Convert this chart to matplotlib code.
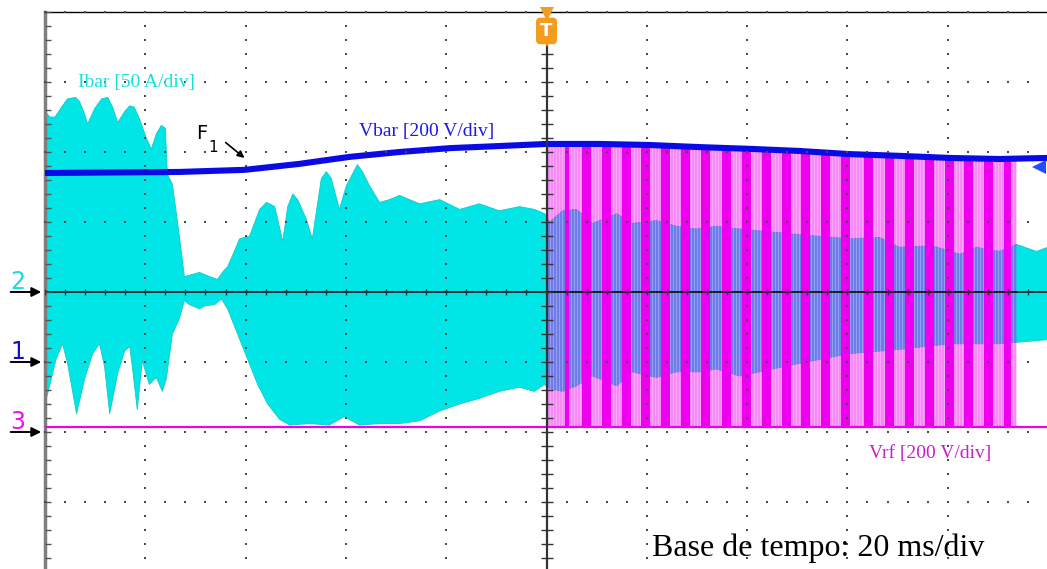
import matplotlib
matplotlib.use("Agg")
import matplotlib.pyplot as plt
import numpy as np

# Escalas do osciloscópio
ms_por_div = 20
ibar_a_div = 50
vbar_v_div = 200
vrf_v_div = 200

# Referências dos canais (divisões a partir do centro da tela)
ref_ch1 = -1.0   # Vbar
ref_ch2 = 0.0    # Ibar
ref_ch3 = -2.0   # Vrf

# Tensão do barramento Vbar [V] ao longo do tempo [ms]
vbar_t = [-100, -73.2, -60.2, -49.3, -39.3, -29.3, -19.3, -9.4, 0, 10.6,
          20.5, 30.5, 40.5, 50.4, 60.4, 70.4, 80.4, 90.3, 100]
vbar_v = [540, 543, 549, 566, 586, 600, 611, 617, 623, 623,
          620, 614, 609, 603, 594, 589, 583, 580, 583]

# Envoltória da corrente Ibar [A]
ibar_sup_t = [-100, -99.0, -98.0, -96.7, -95.5, -93.9, -93.1, -92.1, -91.5, -90.1,
              -88.7, -87.5, -86.5, -85.5, -84.1, -83.1, -82.2, -81.2, -79.8, -78.8,
              -77.8, -76.8, -76.0, -75.6, -74.6, -73.8, -73.0, -72.2,
              -71.2, -69.2, -67.2, -65.6, -64.4, -63.6,
              -62.6, -61.2, -59.2, -57.2, -55.8, -54.2, -53.6, -52.6, -51.6, -50.6,
              -49.6, -47.9, -46.7, -44.9, -43.9, -42.9, -41.3, -39.9, -37.7, -36.7,
              -35.3, -33.3, -31.3, -29.3, -25.3, -21.3, -17.3, -13.4, -9.4, -5.4,
              -2.4, -0.4,
              0.6, 3.2, 6.0, 9.2, 14.0, 17.1, 21.9, 25.9, 29.9, 33.9, 38.5, 50.4,
              60.4, 66.4, 70.4, 77.0, 82.4, 85.7, 90.3, 93.7, 97.7, 100]
ibar_sup_a = [129, 125, 125, 132, 138, 139, 136, 127, 120, 131,
              138, 139, 132, 121, 129, 133, 132, 124, 110, 102,
              113, 119, 117, 84, 77, 56, 34, 11,
              12, 14, 11, 9, 15, 18,
              26, 38, 40, 59, 64, 61, 52, 36, 61, 70,
              66, 52, 38, 81, 86, 81, 59, 76, 91, 86,
              76, 64, 66, 69, 63, 66, 59, 63, 58, 61,
              59, 56,
              50, 58, 59, 49, 56, 49, 51, 47, 45, 47, 45, 41,
              38, 39, 32, 33, 27, 32, 29, 34, 29, 32]
ibar_inf_t = [-100, -99.0, -97.8, -96.5, -95.5, -93.7, -92.1, -90.5, -89.1, -88.1,
              -87.1, -85.5, -84.1, -83.1, -82.4, -81.6, -80.6, -79.2, -77.8,
              -76.6, -75.8, -74.6, -73.2, -72.2,
              -71.2, -69.2, -68.2, -66.2, -64.8, -63.6,
              -61.6, -59.6, -57.6, -55.6, -53.2, -51.2, -47.3, -43.3, -40.3, -37.3,
              -33.3, -29.3, -25.3, -21.3, -17.3, -13.4, -9.4, -5.4, -2.4, -0.4,
              0.6, 3.2, 6.0, 9.2, 14.0, 17.1, 21.9, 25.9, 30.5, 33.9, 38.5, 50.4,
              60.4, 70.4, 80.4, 90.3, 100]
ibar_inf_a = [-80, -66, -48, -37, -51, -87, -62, -44, -37, -54,
              -87, -58, -42, -39, -59, -84, -49, -66, -61,
              -71, -62, -30, -19, -6,
              -9, -12, -10, -9, -5, -12,
              -30, -48, -66, -80, -91, -95, -94, -95, -89, -95,
              -94, -94, -92, -85, -80, -76, -71, -68, -71, -66,
              -69, -71, -67, -60, -67, -57, -61, -57, -57, -55, -60, -51,
              -44, -41, -37, -37, -34]

# Tensão Vrf: nível de base, pulsos [ms] e envoltória [V]
vrf_base_v = 14
vrf_pulso_t = [3.6, 7.0, 11.0, 15.0, 18.9, 22.9, 26.9, 30.9, 34.9, 38.9, 42.9, 46.9,
               50.8, 54.8, 58.8, 63.4, 67.4, 71.4, 75.4, 79.4, 83.3, 87.3, 91.3]
vrf_pulso_larg = [0.8, 1.8, 1.8, 1.8, 1.8, 1.8, 1.8, 1.8, 1.8, 1.8, 1.8, 1.8,
                  1.8, 1.8, 1.8, 1.8, 1.8, 1.8, 1.8, 1.8, 1.8, 1.8, 1.4]
vrf_pulso_v = [820, 820, 820, 819, 817, 816, 814, 811, 809, 806, 804, 801,
               800, 797, 794, 791, 789, 787, 786, 783, 780, 779, 777]
vrf_env_t = [0.2, 10, 20, 30, 40, 50, 60, 70, 80, 90, 93.6]
vrf_env_v = [820, 820, 817, 811, 806, 800, 794, 789, 783, 779, 777]

COR_CIANO = '#00e6e6'
COR_AZUL = '#0a0ae6'
COR_MAGENTA = '#ee00ee'
COR_LARANJA = '#f39c1e'


def div(valor, escala, ref):
    return ref + np.asarray(valor, dtype=float) / escala


fig = plt.figure(figsize=(10.47, 5.69), dpi=100)
ax = fig.add_axes([45 / 1047, -3 / 569, 1003 / 1047, 560 / 569])
ax.set_xlim(-100, 100)
ax.set_ylim(-4, 4)
ax.set_xticks([])
ax.set_yticks([])
for lado in ['right', 'bottom']:
    ax.spines[lado].set_visible(False)
ax.spines['top'].set_color('black')
ax.spines['top'].set_linewidth(1.0)
ax.spines['left'].set_color('#7f7f7f')
ax.spines['left'].set_linewidth(2.5)

# Ibar (envoltória preenchida)
poly_t = list(ibar_sup_t) + list(ibar_inf_t[::-1])
poly_y = list(div(ibar_sup_a, ibar_a_div, ref_ch2)) + list(div(ibar_inf_a, ibar_a_div, ref_ch2)[::-1])
ax.fill(poly_t, poly_y, color=COR_CIANO, lw=0, zorder=2)
ax.plot(ibar_sup_t, div(ibar_sup_a, ibar_a_div, ref_ch2), color='#14c8c8', lw=0.6, zorder=2)
ax.plot(ibar_inf_t, div(ibar_inf_a, ibar_a_div, ref_ch2), color='#14c8c8', lw=0.6, zorder=2)

# Vrf: faixa de chaveamento rápido (clara) + pulsos cheios
base_y = div(vrf_base_v, vrf_v_div, ref_ch3)
env_y = div(vrf_env_v, vrf_v_div, ref_ch3)
ax.fill_between(vrf_env_t, base_y, env_y, color=COR_MAGENTA, alpha=0.46, lw=0, zorder=3)
listras = np.arange(0.6, vrf_env_t[-1], 0.6)
ax.vlines(listras, base_y, np.interp(listras, vrf_env_t, env_y), color='white',
          alpha=0.28, lw=0.7, zorder=3.2)
topo = div(vrf_pulso_v, vrf_v_div, ref_ch3)
ax.bar(vrf_pulso_t, topo - base_y, bottom=base_y, width=vrf_pulso_larg, align='edge',
       color=COR_MAGENTA, lw=0, zorder=3.5)
ax.axhline(base_y, color=COR_MAGENTA, lw=1.6, zorder=3.6)

# Vbar
ax.plot(vbar_t, div(vbar_v, vbar_v_div, ref_ch1), color=COR_AZUL, lw=4.4,
        solid_capstyle='butt', zorder=6)

# Retícula pontilhada
fino_x = np.arange(-100, 100.1, ms_por_div / 5)
fino_y = np.arange(-4, 4.01, 0.2)
for yv in range(-4, 5):
    if yv != 0:
        ax.plot(fino_x, np.full_like(fino_x, yv), ls='none', marker='s', ms=1.5,
                mew=0, color='#4a4a4a', zorder=7, clip_on=False)
for xv in range(-80, 101, ms_por_div):
    if xv != 0:
        ax.plot(np.full_like(fino_y, xv), fino_y, ls='none', marker='s', ms=1.5,
                mew=0, color='#4a4a4a', zorder=7, clip_on=False)
ax.axhline(0, color='black', lw=1.1, zorder=7)
ax.plot([0, 0], [-4, 3.55], color='#333333', lw=1.6, zorder=7)
ax.plot(fino_x, np.zeros_like(fino_x), ls='none', marker='|', ms=5, mew=1.0,
        color='#333333', zorder=7)
ax.plot(np.zeros_like(fino_y[:-3]), fino_y[:-3], ls='none', marker='_', ms=8, mew=1.0,
        color='#333333', zorder=7)
ax.plot(np.full_like(fino_y, -100), fino_y, ls='none', marker=1, ms=4, mew=1.0,
        color='#555555', zorder=7, clip_on=False)

# Marcador de disparo
ax.plot(0, 3.97, marker='v', ms=10, color=COR_LARANJA, mew=0, zorder=9, clip_on=False)
ax.plot(0, 3.58, marker='v', ms=9, color=COR_LARANJA, mew=0, zorder=9)
ax.text(0, 3.73, 'T', color='white', fontsize=13, fontweight='bold', ha='center',
        va='center', zorder=10,
        bbox=dict(boxstyle='round,pad=0.2', fc=COR_LARANJA, ec=COR_LARANJA))
ax.plot(98.3, 1.79, marker='<', ms=10, color='#1f4fff', mew=0, zorder=9, clip_on=False)

# Indicadores dos canais
canais = [('2', ref_ch2, '#19dcdc'), ('1', ref_ch1, '#1010c8'), ('3', ref_ch3, '#f010f0')]
for rotulo, ref, cor in canais:
    ax.annotate('', xy=(-0.001, ref), xytext=(-0.037, ref),
                xycoords=('axes fraction', 'data'), textcoords=('axes fraction', 'data'),
                arrowprops=dict(arrowstyle='-|>', color='black', lw=1.4, mutation_scale=14),
                annotation_clip=False)
    ax.text(-0.027, ref + 0.04, rotulo, color=cor, fontsize=17, ha='center',
            va='baseline', transform=ax.get_yaxis_transform(), clip_on=False)

# Legendas dos traços
serif = 'Liberation Serif'
ax.text(-93.5, 2.93, 'Ibar [50 A/div]', color='#19dede', fontsize=14,
        family=serif, va='baseline', zorder=10)
ax.text(-37.3, 2.23, 'Vbar [200 V/div]', color='#1a1ae6', fontsize=14,
        family=serif, va='baseline', zorder=10)
ax.text(64.4, -2.37, 'Vrf [200 V/div]', color='#c81ec8', fontsize=14,
        family=serif, va='baseline', zorder=10)
ax.text(21.1, -3.77, 'Base de tempo: 20 ms/div', color='black', fontsize=23,
        family=serif, va='baseline', zorder=10)

# Indicação F1
ax.text(-69.8, 2.19, 'F', color='black', fontsize=14, va='baseline', zorder=10)
ax.text(-67.4, 2.0, '1', color='black', fontsize=11, va='baseline', zorder=10)
ax.annotate('', xy=(-59.8, 1.89), xytext=(-64.4, 2.16),
            arrowprops=dict(arrowstyle='-|>', color='black', lw=1.2, mutation_scale=10),
            zorder=10)

fig.savefig('out.png', dpi=100)
